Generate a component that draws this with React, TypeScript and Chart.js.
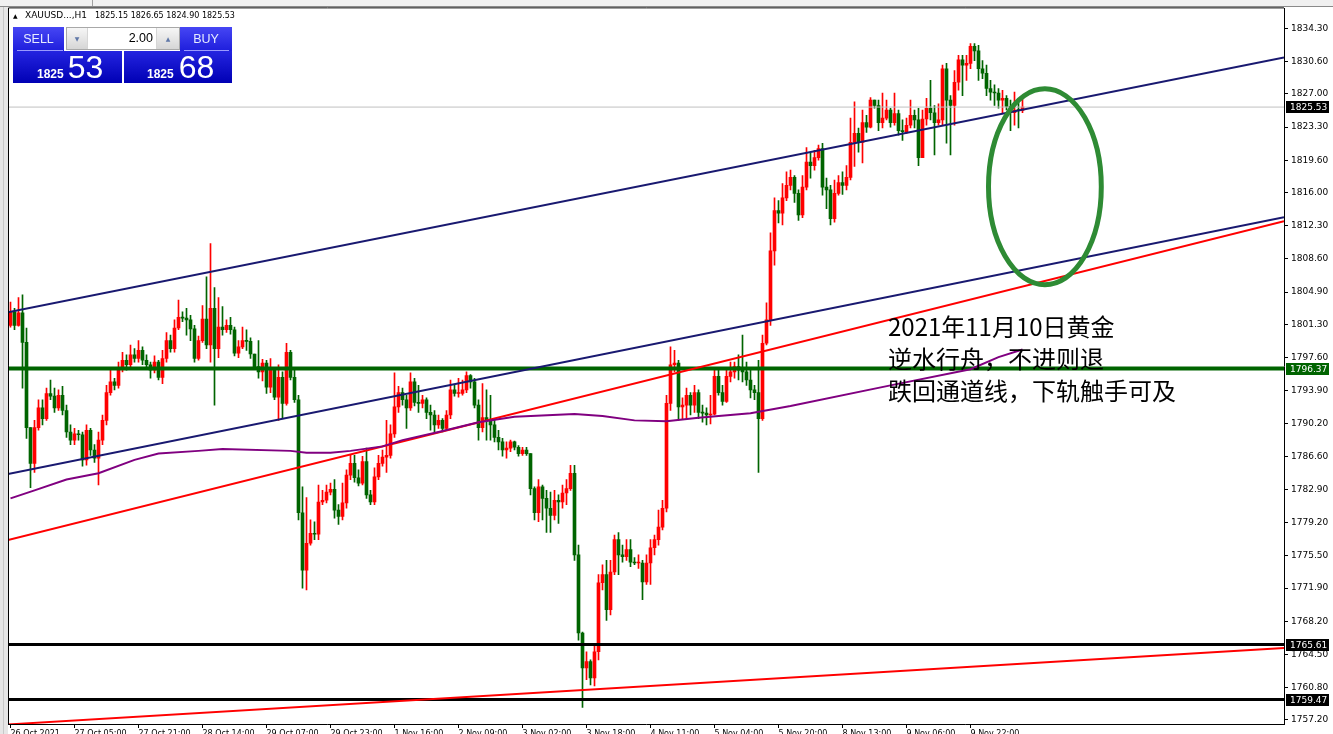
import React, { useEffect, useRef } from 'react';
import { Chart, registerables } from 'chart.js';

Chart.register(...registerables);

// ---------- DATA ----------
const firstOpen = 1801.2;

const closes: number[] = [
  1802.7, 1801.2, 1802.6, 1799.3, 1789.8, 1785.8, 1789.8, 1792.0, 1790.8, 1793.6,
  1793.3, 1792.0, 1793.4, 1791.7, 1789.3, 1788.4, 1789.1, 1789.0, 1786.2, 1789.5,
  1787.3, 1786.4, 1788.4, 1790.6, 1793.7, 1794.9, 1794.5, 1796.4, 1797.3, 1796.8,
  1797.9, 1797.5, 1798.4, 1797.3, 1796.8, 1796.2, 1797.1, 1795.4, 1797.5, 1799.5,
  1798.6, 1800.9, 1802.1, 1802.0, 1801.8, 1800.8, 1797.5, 1799.5, 1801.9, 1799.0,
  1803.1, 1798.6, 1801.0, 1800.7, 1801.2, 1800.7, 1798.1, 1798.8, 1799.5, 1799.4,
  1798.0, 1796.6, 1796.0, 1797.0, 1794.3, 1796.2, 1793.2, 1795.4, 1792.5, 1798.2,
  1795.4, 1792.9, 1780.3, 1773.9, 1776.9, 1778.0, 1777.9, 1781.5, 1781.7, 1782.6,
  1782.9, 1780.6, 1779.9, 1781.4, 1784.5, 1785.8, 1784.2, 1783.6, 1786.0, 1782.3,
  1781.5, 1784.3, 1785.8, 1786.5, 1786.7, 1789.1, 1792.1, 1793.7, 1792.9, 1792.0,
  1794.9, 1792.6, 1792.5, 1792.9, 1791.5, 1791.2, 1790.1, 1790.6, 1789.7, 1791.2,
  1794.0, 1793.6, 1793.6, 1794.0, 1795.6, 1794.9, 1792.3, 1789.8, 1790.9, 1790.6,
  1790.1, 1788.7, 1788.2, 1787.3, 1787.5, 1788.2, 1787.6, 1786.9, 1787.3, 1786.9,
  1783.0, 1780.3, 1783.2, 1781.9, 1780.8, 1780.0, 1781.7, 1781.5, 1782.5, 1783.0,
  1784.7, 1775.6, 1766.9, 1763.0, 1763.7, 1761.9, 1764.8, 1772.5, 1773.4, 1769.5,
  1773.7, 1777.3, 1775.6, 1775.4, 1776.2, 1774.8, 1774.7, 1774.7, 1772.6, 1774.7,
  1776.4, 1777.3, 1778.7, 1780.8, 1792.5, 1796.8, 1797.0, 1792.1, 1792.3, 1793.4,
  1792.3, 1793.7, 1791.5, 1791.4, 1791.2, 1791.3, 1795.5, 1793.7, 1792.7, 1795.5,
  1796.0, 1796.6, 1796.2, 1796.0, 1795.1, 1794.0, 1793.7, 1790.8, 1799.2, 1801.8,
  1809.5, 1814.0, 1813.7, 1815.4, 1816.8, 1817.7, 1815.9, 1813.5, 1816.6, 1819.4,
  1819.0, 1819.9, 1820.9, 1816.6, 1816.3, 1813.1, 1815.9, 1817.1, 1816.8, 1817.7,
  1821.6, 1822.6, 1821.6, 1823.8, 1823.3, 1826.3, 1825.7, 1823.8, 1824.3, 1825.2,
  1823.8, 1824.8, 1822.9, 1822.8, 1823.5, 1824.6, 1824.1, 1819.9, 1824.2, 1825.4,
  1824.9, 1823.8, 1824.1, 1829.8, 1826.3, 1825.7, 1828.3, 1830.8, 1830.2, 1830.4,
  1832.3, 1831.8, 1829.8, 1829.3, 1827.6, 1827.2, 1827.1, 1826.3, 1826.5, 1825.6,
  1824.9, 1825.2, 1825.15, 1825.53,
];

const highs: number[] = [
  1803.8, 1803.1, 1804.3, 1804.6, 1800.9, 1789.8, 1790.6, 1792.9, 1792.9, 1794.2,
  1795.1, 1794.2, 1794.0, 1794.4, 1792.3, 1790.1, 1789.7, 1789.5, 1789.3, 1790.1,
  1789.7, 1787.9, 1789.3, 1791.2, 1794.5, 1796.2, 1795.3, 1797.1, 1798.2, 1797.9,
  1799.0, 1798.6, 1799.5, 1798.8, 1797.9, 1797.1, 1797.8, 1797.3, 1798.4, 1800.4,
  1800.1, 1801.8, 1804.0, 1802.7, 1803.1, 1802.3, 1801.2, 1800.0, 1803.4, 1806.6,
  1810.3, 1805.4, 1804.3, 1803.3, 1801.8, 1802.1, 1801.0, 1799.5, 1801.0, 1800.7,
  1799.8, 1797.9, 1799.5, 1797.4, 1797.3, 1797.5, 1796.4, 1796.8, 1796.0, 1799.2,
  1798.4, 1796.2, 1793.4, 1783.2, 1782.0, 1779.5, 1779.3, 1783.4, 1782.8, 1783.4,
  1783.6, 1784.0, 1781.2, 1783.6, 1785.1, 1786.7, 1786.7, 1785.1, 1786.6, 1787.5,
  1782.8, 1785.3, 1786.7, 1787.3, 1790.6, 1790.1, 1795.9, 1794.4, 1794.2, 1793.4,
  1795.9, 1795.3, 1794.5, 1793.4, 1793.1, 1792.3, 1791.7, 1791.2, 1790.8, 1791.7,
  1795.1, 1794.5, 1795.3, 1795.1, 1796.0, 1795.7, 1795.3, 1792.9, 1794.7, 1794.0,
  1793.4, 1790.6, 1789.5, 1788.6, 1788.2, 1788.4, 1788.3, 1787.8, 1787.6, 1787.6,
  1786.7, 1783.2, 1784.0, 1783.4, 1782.8, 1782.6, 1782.8, 1782.3, 1783.4, 1784.0,
  1785.6, 1785.6, 1776.7, 1767.0, 1764.8, 1763.9, 1765.6, 1773.4, 1774.5, 1775.0,
  1775.0, 1777.8, 1778.1, 1776.7, 1777.3, 1777.3, 1775.3, 1775.6, 1775.0, 1775.6,
  1777.3, 1777.8, 1780.6, 1781.7, 1793.4, 1798.8, 1798.4, 1797.3, 1793.1, 1794.2,
  1793.7, 1794.5, 1794.0, 1792.3, 1792.0, 1793.4, 1796.2, 1796.2, 1794.5, 1796.2,
  1797.1, 1797.1, 1797.9, 1800.1, 1797.1, 1796.2, 1794.5, 1797.3, 1800.1, 1803.7,
  1811.5, 1815.4, 1815.1, 1817.0, 1818.3, 1818.5, 1817.9, 1816.3, 1817.9, 1821.0,
  1820.4, 1820.7, 1821.3, 1821.5, 1817.6, 1816.8, 1817.4, 1817.9, 1818.3, 1819.0,
  1824.3, 1826.1, 1823.2, 1825.2, 1824.6, 1826.6, 1826.3, 1826.3, 1827.1, 1826.3,
  1825.4, 1827.1, 1825.2, 1824.1, 1824.3, 1826.3, 1825.2, 1825.4, 1825.2, 1826.5,
  1828.5, 1825.7, 1825.9, 1830.2, 1830.4, 1826.8, 1829.6, 1831.3, 1831.3, 1831.3,
  1832.6, 1832.6, 1832.4, 1830.7, 1830.2, 1828.5, 1828.0, 1827.6, 1827.4, 1826.8,
  1826.3, 1827.2, 1826.5, 1826.65,
];

const lows: number[] = [
  1801.0, 1800.7, 1801.1, 1794.2, 1788.6, 1783.1, 1784.8, 1789.5, 1790.1, 1790.6,
  1792.9, 1791.5, 1791.7, 1791.2, 1788.7, 1787.9, 1787.9, 1788.4, 1785.5, 1785.6,
  1786.7, 1785.9, 1783.4, 1787.9, 1790.1, 1793.4, 1794.0, 1794.2, 1796.0, 1796.2,
  1796.4, 1797.1, 1797.1, 1796.8, 1796.4, 1795.3, 1795.9, 1795.1, 1794.7, 1797.1,
  1798.2, 1798.2, 1800.7, 1801.6, 1800.1, 1799.5, 1797.1, 1797.3, 1799.3, 1798.6,
  1797.1, 1792.3, 1797.6, 1800.1, 1800.4, 1800.2, 1797.8, 1797.6, 1798.6, 1798.4,
  1797.5, 1796.4, 1795.3, 1795.0, 1793.6, 1793.7, 1792.9, 1790.6, 1790.8, 1792.3,
  1795.1, 1792.6, 1779.5, 1771.9, 1771.7, 1776.7, 1777.3, 1777.3, 1781.2, 1781.4,
  1782.3, 1779.7, 1779.0, 1779.5, 1780.8, 1784.0, 1783.7, 1783.3, 1783.4, 1781.9,
  1781.2, 1781.2, 1784.0, 1785.5, 1784.8, 1786.4, 1788.7, 1791.5, 1792.3, 1789.7,
  1791.7, 1792.2, 1791.5, 1792.0, 1790.8, 1789.5, 1789.3, 1789.7, 1789.3, 1789.5,
  1790.8, 1793.3, 1793.2, 1793.4, 1793.7, 1794.2, 1792.0, 1788.4, 1789.3, 1788.4,
  1788.4, 1788.2, 1787.3, 1786.6, 1786.4, 1787.1, 1787.3, 1786.6, 1786.7, 1786.7,
  1782.3, 1779.5, 1779.3, 1779.5, 1778.1, 1778.1, 1779.5, 1779.1, 1780.8, 1781.2,
  1782.8, 1775.0, 1766.1, 1758.6, 1761.7, 1761.1, 1761.0, 1763.9, 1771.7, 1768.3,
  1768.9, 1773.4, 1773.4, 1774.8, 1775.0, 1774.3, 1774.5, 1774.1, 1770.6, 1772.3,
  1772.3, 1775.6, 1776.7, 1778.4, 1780.4, 1791.7, 1796.0, 1790.6, 1790.8, 1790.8,
  1791.2, 1791.5, 1790.8, 1790.4, 1790.1, 1790.2, 1791.2, 1793.4, 1792.3, 1792.6,
  1794.9, 1795.3, 1795.1, 1794.9, 1794.5, 1793.1, 1792.9, 1784.8, 1790.6, 1799.0,
  1801.2, 1807.9, 1812.6, 1812.4, 1815.1, 1816.3, 1814.9, 1812.9, 1813.2, 1816.3,
  1817.6, 1818.5, 1819.6, 1815.7, 1814.2, 1812.4, 1812.7, 1815.7, 1815.8, 1816.3,
  1817.4, 1818.9, 1820.5, 1819.3, 1822.7, 1823.2, 1825.4, 1822.9, 1823.2, 1824.1,
  1823.3, 1823.5, 1822.4, 1821.8, 1822.6, 1823.2, 1823.2, 1819.0, 1819.9, 1823.5,
  1824.1, 1820.2, 1823.5, 1823.5, 1821.5, 1820.2, 1823.5, 1827.4, 1826.8, 1828.5,
  1829.8, 1830.7, 1828.5, 1828.7, 1826.8, 1826.3, 1825.7, 1825.4, 1824.9, 1825.2,
  1822.9, 1823.5, 1823.2, 1824.90,
];

// moving average sampled at bar indices
const maIndex: number[] = [0, 6, 14, 22, 31, 37, 47, 53, 70, 74, 80, 85, 93, 98, 107, 117, 126, 141, 148, 156, 164, 172, 185, 195, 220, 240, 247, 253];
const maValues: number[] = [1781.9, 1782.8, 1784.0, 1784.7, 1786.2, 1786.9, 1787.2, 1787.4, 1787.2, 1787.0, 1787.0, 1787.2, 1787.7, 1788.4, 1789.3, 1790.4, 1791.0, 1791.3, 1791.1, 1790.6, 1790.5, 1790.9, 1791.4, 1792.2, 1794.5, 1796.3, 1797.65, 1798.5];

// trend lines: [price at left edge, price at right edge]
const upperChannel: number[] = [1802.66, 1831.07];
const lowerChannel: number[] = [1784.61, 1813.24];
const upperRed: number[] = [1777.25, 1812.80];
const lowerRed: number[] = [1756.70, 1765.22];

const greenLevel = 1796.37;
const blackLevels: number[] = [1765.61, 1759.47];
const bidLevel = 1825.53;

const tagValues: number[] = [1825.53, 1796.37, 1765.61, 1759.47];
const tagColors: string[] = ['#000000', '#006400', '#000000', '#000000'];

const yTickValues: number[] = [1834.3, 1830.6, 1827.0, 1823.3, 1819.6, 1816.0, 1812.3, 1808.6, 1804.9, 1801.3, 1797.6, 1793.9, 1790.2, 1786.6, 1782.9, 1779.2, 1775.5, 1771.9, 1768.2, 1764.5, 1760.8, 1757.2];
const xTickIndices: number[] = [0, 16, 32, 48, 64, 80, 96, 112, 128, 144, 160, 176, 192, 208, 224, 240];
const xTickLabels: string[] = ['26 Oct 2021', '27 Oct 05:00', '27 Oct 21:00', '28 Oct 14:00', '29 Oct 07:00', '29 Oct 23:00', '1 Nov 16:00', '2 Nov 09:00', '3 Nov 02:00', '3 Nov 18:00', '4 Nov 11:00', '5 Nov 04:00', '5 Nov 20:00', '8 Nov 13:00', '9 Nov 06:00', '9 Nov 22:00'];

// ellipse annotation: center [bar index, price], radii [bars, price]
const ellipseCenter: number[] = [258.6, 1816.64];
const ellipseRadii: number[] = [14.1, 10.92];

const noteLines: string[] = ['2021年11月10日黄金', '逆水行舟，不进则退', '跌回通道线，下轨触手可及'];

const X_MIN = -0.625;
const X_MAX = 318.375;
const Y_MIN = 1756.75;
const Y_MAX = 1836.53;

const UP = '#ff0000';
const DOWN = '#006400';

const overlayPlugin: any = {
  id: 'overlay',
  beforeDraw(chart: any) {
    const { ctx, width, height } = chart;
    ctx.save();
    ctx.fillStyle = '#ffffff';
    ctx.fillRect(0, 0, width, height);
    ctx.restore();
  },
  afterDraw(chart: any) {
    const { ctx, chartArea: a, scales } = chart;
    const xs = scales.x;
    const ys = scales.y;
    ctx.save();
    ctx.strokeStyle = '#000';
    ctx.lineWidth = 1;
    ctx.beginPath();
    ctx.moveTo(a.left + 0.5, a.bottom);
    ctx.lineTo(a.left + 0.5, a.top - 0.5);
    ctx.lineTo(a.right, a.top - 0.5);
    ctx.stroke();

    const cx = xs.getPixelForValue(ellipseCenter[0]);
    const cy = ys.getPixelForValue(ellipseCenter[1]);
    const rx = Math.abs(xs.getPixelForValue(ellipseCenter[0] + ellipseRadii[0]) - cx);
    const ry = Math.abs(ys.getPixelForValue(ellipseCenter[1] + ellipseRadii[1]) - cy);
    ctx.strokeStyle = '#2e8b34';
    ctx.lineWidth = 5;
    ctx.beginPath();
    ctx.ellipse(cx, cy, rx, ry, 0, 0, Math.PI * 2);
    ctx.stroke();

    ctx.font = '9px "DejaVu Sans"';
    ctx.textBaseline = 'middle';
    ctx.textAlign = 'left';
    tagValues.forEach((v, i) => {
      const y = Math.round(ys.getPixelForValue(v));
      ctx.fillStyle = tagColors[i];
      ctx.fillRect(a.right + 2, y - 6, 43, 12);
      ctx.fillStyle = '#ffffff';
      ctx.fillText(v.toFixed(2), a.right + 6, y + 0.5);
    });
    ctx.restore();
  },
};

export default function App() {
  const ref = useRef<HTMLCanvasElement>(null);

  useEffect(() => {
    document.body.style.margin = '0';
    const opens = closes.map((c, i) => (i === 0 ? firstOpen : closes[i - 1]));
    const colors = closes.map((c, i) => (c >= opens[i] ? UP : DOWN));
    const wickData = closes.map((c, i) => ({
      x: i,
      y: [Math.min(lows[i], opens[i], c), Math.max(highs[i], opens[i], c)],
    }));
    const bodyData = closes.map((c, i) => ({ x: i, y: [opens[i], c] }));
    const seg = (vals: number[]) => [
      { x: X_MIN, y: vals[0] },
      { x: X_MAX, y: vals[1] },
    ];
    const line = (data: any[], color: string, width: number) => ({
      type: 'line',
      data,
      borderColor: color,
      borderWidth: width,
      pointRadius: 0,
      fill: false,
      tension: 0,
      order: 0,
    });

    const chart = new Chart(ref.current as HTMLCanvasElement, {
      type: 'bar',
      data: {
        datasets: [
          {
            type: 'bar',
            data: wickData,
            backgroundColor: colors,
            barThickness: 1,
            grouped: false,
            borderWidth: 0,
            order: 3,
          } as any,
          {
            type: 'bar',
            data: bodyData,
            backgroundColor: colors,
            barThickness: 3,
            grouped: false,
            minBarLength: 1,
            borderWidth: 0,
            order: 2,
          } as any,
          line(maIndex.map((x, i) => ({ x, y: maValues[i] })), '#800080', 2),
          line(seg(upperChannel), '#191970', 2),
          line(seg(lowerChannel), '#191970', 2),
          line(seg(upperRed), '#ff0000', 2),
          line(seg(lowerRed), '#ff0000', 2),
          line(seg([bidLevel, bidLevel]), '#c0c0c0', 1),
          line(seg([greenLevel, greenLevel]), '#006400', 4),
          line(seg([blackLevels[0], blackLevels[0]]), '#000000', 3),
          line(seg([blackLevels[1], blackLevels[1]]), '#000000', 3),
        ] as any,
      },
      options: {
        responsive: false,
        animation: false,
        devicePixelRatio: 1,
        events: [],
        layout: { padding: { left: 8, top: 8, right: 0, bottom: 0 } },
        plugins: {
          legend: { display: false },
          tooltip: { enabled: false },
          title: { display: false },
        },
        scales: {
          x: {
            type: 'linear',
            min: X_MIN,
            max: X_MAX,
            offset: false,
            afterBuildTicks: (s: any) => {
              s.ticks = xTickIndices.map((v) => ({ value: v }));
            },
            afterFit: (s: any) => {
              s.height = 10;
            },
            ticks: {
              autoSkip: false,
              maxRotation: 0,
              minRotation: 0,
              align: 'start',
              padding: 1,
              color: '#000',
              font: { family: 'DejaVu Sans', size: 8 },
              callback: (v: any) => {
                const k = xTickIndices.indexOf(Number(v));
                return k >= 0 ? xTickLabels[k] : '';
              },
            },
            grid: { drawOnChartArea: false, drawTicks: true, tickLength: 4, color: '#000', offset: false },
            border: { display: true, color: '#000' },
          },
          y: {
            type: 'linear',
            position: 'right',
            min: Y_MIN,
            max: Y_MAX,
            beginAtZero: false,
            afterBuildTicks: (s: any) => {
              s.ticks = yTickValues.map((v) => ({ value: v }));
            },
            afterFit: (s: any) => {
              s.width = 49;
            },
            ticks: {
              autoSkip: false,
              padding: 3,
              color: '#000',
              font: { family: 'DejaVu Sans', size: 9 },
              callback: (v: any) => Number(v).toFixed(2),
            },
            grid: { drawOnChartArea: false, drawTicks: true, tickLength: 4, color: '#000' },
            border: { display: true, color: '#000' },
          },
        },
      } as any,
      plugins: [overlayPlugin],
    });
    return () => chart.destroy();
  }, []);

  const blueTop = 'linear-gradient(#4646f4, #1e1edc)';
  const blueBottom = 'linear-gradient(#2424e0, #0000b4)';
  const abs = (s: any): any => ({ position: 'absolute', ...s });

  return (
    <div style={{ position: 'fixed', left: 0, top: 0, width: 1333, height: 734, overflow: 'hidden', background: '#fff' }}>
      <canvas ref={ref} width={1333} height={734} style={abs({ left: 0, top: 0, width: 1333, height: 734 })} />
      {/* window strips */}
      <div style={abs({ left: 0, top: 0, width: 1333, height: 7, background: '#f0f0f0', borderBottom: '1px solid #8a8a8a', boxSizing: 'border-box' })} />
      <div style={abs({ left: 92, top: 0, width: 1, height: 6, background: '#a0a0a0' })} />
      <div style={abs({ left: 0, top: 7, width: 8, height: 727, background: '#e6e6e6' })} />
      <div style={abs({ left: 3, top: 7, width: 1, height: 727, background: '#c8c8c8' })} />

      {/* header */}
      <div style={abs({ left: 13, top: 11, fontFamily: 'DejaVu Sans', fontSize: 6, lineHeight: '9px', color: '#000' })}>▲</div>
      <div style={abs({ left: 25, top: 10, fontFamily: 'DejaVu Sans', fontSize: 9, lineHeight: '11px', color: '#000', whiteSpace: 'nowrap' })}>XAUUSD...,H1</div>
      <div style={abs({ left: 95, top: 10, fontFamily: 'DejaVu Sans', fontSize: 8, lineHeight: '11px', color: '#000', whiteSpace: 'nowrap' })}>1825.15 1826.65 1824.90 1825.53</div>

      {/* trade panel */}
      <div style={abs({ left: 13, top: 27, width: 51, height: 24, background: blueTop, color: '#e6ecff', fontFamily: 'Liberation Sans', fontSize: 12.5, display: 'flex', alignItems: 'center', justifyContent: 'center' })}>SELL</div>
      <div style={abs({ left: 180, top: 27, width: 52, height: 24, background: blueTop, color: '#e6ecff', fontFamily: 'Liberation Sans', fontSize: 12.5, display: 'flex', alignItems: 'center', justifyContent: 'center' })}>BUY</div>
      <div style={abs({ left: 66, top: 27, width: 114, height: 23, background: '#d6d6d6', border: '1px solid #a8a8a8', boxSizing: 'border-box' })} />
      <div style={abs({ left: 67, top: 28, width: 20, height: 21, background: 'linear-gradient(#f6f6f6, #d6d6d6)', color: '#6078a8', fontSize: 6, fontFamily: 'DejaVu Sans', display: 'flex', alignItems: 'center', justifyContent: 'center' })}>▼</div>
      <div style={abs({ left: 88, top: 28, width: 68, height: 21, background: '#fff', color: '#000', fontFamily: 'Liberation Sans', fontSize: 12.5, lineHeight: '21px', textAlign: 'right', paddingRight: 3, boxSizing: 'border-box' })}>2.00</div>
      <div style={abs({ left: 157, top: 28, width: 22, height: 21, background: 'linear-gradient(#f6f6f6, #d6d6d6)', color: '#6078a8', fontSize: 6, fontFamily: 'DejaVu Sans', display: 'flex', alignItems: 'center', justifyContent: 'center' })}>▲</div>
      <div style={abs({ left: 13, top: 51, width: 109, height: 32, background: blueBottom })} />
      <div style={abs({ left: 124, top: 51, width: 108, height: 32, background: blueBottom })} />
      <div style={abs({ left: 17, top: 50, width: 46, height: 1, background: '#9a9aff' })} />
      <div style={abs({ left: 184, top: 50, width: 45, height: 1, background: '#9a9aff' })} />
      <div style={abs({ left: 37, top: 51, display: 'flex', alignItems: 'baseline', gap: 4, color: '#fff', fontFamily: 'Liberation Sans', lineHeight: '32px' })}>
        <span style={{ fontSize: 12, fontWeight: 'bold' }}>1825</span>
        <span style={{ fontSize: 32 }}>53</span>
      </div>
      <div style={abs({ left: 147, top: 51, display: 'flex', alignItems: 'baseline', gap: 5, color: '#fff', fontFamily: 'Liberation Sans', lineHeight: '32px' })}>
        <span style={{ fontSize: 12, fontWeight: 'bold' }}>1825</span>
        <span style={{ fontSize: 32 }}>68</span>
      </div>

      {/* annotation text */}
      {noteLines.map((t, i) => (
        <div key={i} style={abs({ left: 888, top: 314 + i * 32, fontFamily: '"Noto Sans CJK SC"', fontSize: 24, lineHeight: '24px', color: '#000', whiteSpace: 'nowrap' })}>{t}</div>
      ))}
    </div>
  );
}
